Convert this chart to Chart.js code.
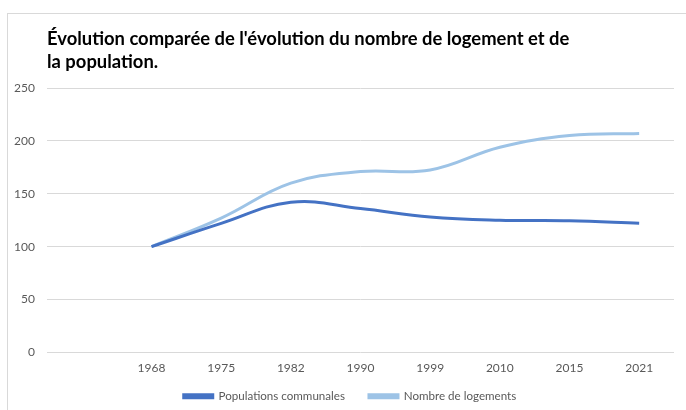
<!DOCTYPE html>
<html>
<head>
<meta charset="utf-8">
<script src="https://cdn.jsdelivr.net/npm/chart.js@4"></script>
<style>
  html, body { margin: 0; padding: 0; background: #fff; }
  #wrap { position: relative; width: 686px; height: 410px; }
  #frame { position: absolute; left: 7px; top: 13px; right: 0; bottom: 0;
           border-top: 1px solid #d9d9d9; border-left: 1px solid #d9d9d9; }
  canvas { position: absolute; left: 0; top: 0; }
</style>
</head>
<body>
<div id="wrap">
  <div id="frame"></div>
  <canvas id="chart" width="686" height="410"></canvas>
</div>
<script>
// data (index base 100 in 1968)
const years = ['1968', '1975', '1982', '1990', '1999', '2010', '2015', '2021'];
const populations = [100, 122, 142, 136, 128, 125, 124.5, 122];
const logements = [100, 127, 160, 171, 172.5, 194, 205, 207];
const yTicks = [0, 50, 100, 150, 200, 250];

const titleLines = [
  "Évolution comparée de l'évolution du nombre de logement et de",
  "la population."
];

// first category is left empty, as in the original sheet
const labels = [''].concat(years);

// title starts at the plot's left edge, legend nudged like in the sheet
const placeBlocks = {
  id: 'placeBlocks',
  afterLayout(chart) {
    chart.titleBlock.left = chart.chartArea.left;
    chart.legend.left += 13;
    chart.legend.right += 13;
    chart.legend.top -= 9;
    chart.legend.bottom -= 9;
  }
};

new Chart(document.getElementById('chart'), {
  type: 'line',
  data: {
    labels: labels,
    datasets: [{
      label: 'Populations communales',
      data: [null].concat(populations),
      borderColor: '#4472C4',
      backgroundColor: '#4472C4',
      borderWidth: 3,
      pointRadius: 0,
      tension: 0.4
    }, {
      label: 'Nombre de logements',
      data: [null].concat(logements),
      borderColor: '#9DC3E6',
      backgroundColor: '#9DC3E6',
      borderWidth: 3,
      pointRadius: 0,
      tension: 0.4
    }]
  },
  options: {
    responsive: false,
    animation: false,
    layout: { padding: { left: 0, right: 12, top: 0, bottom: -11 } },
    plugins: {
      title: {
        display: true,
        text: titleLines,
        align: 'start',
        color: '#000',
        font: { family: 'Lato', size: 18.4, weight: 'bold', lineHeight: 1.25 },
        padding: { top: 28, bottom: 14 }
      },
      legend: {
        position: 'bottom',
        labels: {
          color: '#595959',
          font: { family: 'Lato', size: 11.6 },
          boxWidth: 29,
          boxHeight: 3,
          padding: 24
        }
      },
      tooltip: { enabled: false }
    },
    scales: {
      x: {
        offset: true,
        afterFit(scale) { scale.height = 23; },
        grid: { display: false, drawTicks: false },
        border: { display: false },
        ticks: { color: '#595959', font: { family: 'Lato', size: 12 }, padding: 9, maxRotation: 0 }
      },
      y: {
        min: 0,
        max: 250,
        afterFit(scale) { scale.width = 47; },
        afterBuildTicks(scale) { scale.ticks = yTicks.map(v => ({ value: v })); },
        grid: { color: '#d9d9d9', drawTicks: false },
        border: { display: false },
        ticks: { color: '#595959', font: { family: 'Lato', size: 12 }, padding: 12 }
      }
    }
  },
  plugins: [placeBlocks]
});
</script>
</body>
</html>
